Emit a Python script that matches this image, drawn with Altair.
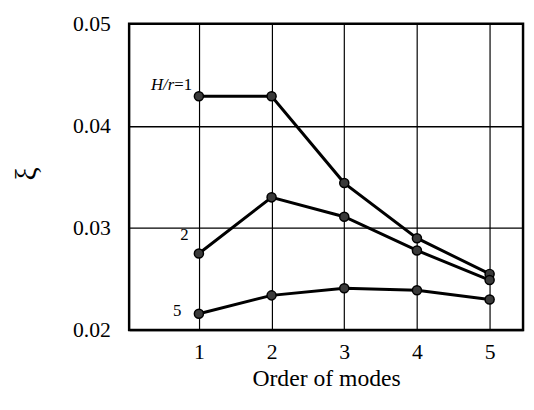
import altair as alt
import pandas as pd

modes = [1, 2, 3, 4, 5]
xi_h1 = [0.0429, 0.0429, 0.0344, 0.0290, 0.0255]
xi_h2 = [0.0275, 0.0330, 0.0311, 0.0278, 0.0249]
xi_h5 = [0.0216, 0.0234, 0.0241, 0.0239, 0.0230]
series_names = ["H/r=1", "2", "5"]

label_text = ["H/r", "=1", "2", "5"]
label_x = [0.66, 0.66, 0.80, 0.70]
label_y = [0.0440, 0.0440, 0.02935, 0.02183]
label_align = ["right", "left", "center", "center"]
label_style = ["italic", "normal", "normal", "normal"]

rows = []
for name, vals in zip(series_names, [xi_h1, xi_h2, xi_h5]):
    for m, v in zip(modes, vals):
        rows.append({"series": name, "mode": m, "xi": v})
df = pd.DataFrame(rows)

lab = pd.DataFrame({"text": label_text, "x": label_x, "y": label_y,
                    "align": label_align, "style": label_style})

FONT = "Liberation Serif"
xscale = alt.Scale(domain=[0.04, 5.46], nice=False, zero=False)
yscale = alt.Scale(domain=[0.02, 0.05], nice=False, zero=False)

xaxis = alt.Axis(values=modes, format="d", title="Order of modes", grid=True,
                 gridColor="black", gridWidth=1.2, gridOpacity=1, domain=False, ticks=False,
                 labelFont=FONT, labelFontSize=22, labelFontWeight="normal",
                 labelColor="black", labelPadding=12,
                 titleFont=FONT, titleFontSize=24, titleFontWeight="normal",
                 titleColor="black", titlePadding=4)
yaxis = alt.Axis(values=[0.02, 0.03, 0.04, 0.05], format=".2f", title="ξ", grid=True,
                 gridColor="black", gridWidth=1.4, gridOpacity=1, domain=False, ticks=False,
                 labelFont=FONT, labelFontSize=22, labelFontWeight="normal",
                 labelColor="black", labelPadding=19,
                 titleFont=FONT, titleFontSize=30, titleFontWeight="normal",
                 titleColor="black", titleAngle=-90, titleX=-104, titleY=152,
                 titleAlign="center", titleBaseline="middle")

base = alt.Chart(df)
lines = base.mark_line(color="black", strokeWidth=3).encode(
    x=alt.X("mode:Q", scale=xscale, axis=xaxis),
    y=alt.Y("xi:Q", scale=yscale, axis=yaxis),
    detail="series:N",
)
points = base.mark_point(filled=True, shape="circle", size=85, fill="#3a3a3a",
                         stroke="black", strokeWidth=1.5, opacity=1).encode(
    x=alt.X("mode:Q", scale=xscale),
    y=alt.Y("xi:Q", scale=yscale),
)

texts = []
for i in range(len(label_text)):
    t = alt.Chart(lab.iloc[[i]]).mark_text(
        font=FONT, fontSize=17, color="black", align=label_align[i],
        baseline="middle", fontStyle=label_style[i]
    ).encode(
        x=alt.X("x:Q", scale=xscale),
        y=alt.Y("y:Q", scale=yscale),
        text="text:N",
    )
    texts.append(t)

chart = alt.layer(lines, points, *texts).properties(
    width=400, height=311,
    autosize=alt.AutoSizeParams(type="none"),
    padding={"left": 123, "top": 13, "right": 3, "bottom": 70},
    background="white",
).configure_view(stroke="black", strokeWidth=2.5)

chart.save("out.html", embed_options={"renderer": "svg", "actions": False})
